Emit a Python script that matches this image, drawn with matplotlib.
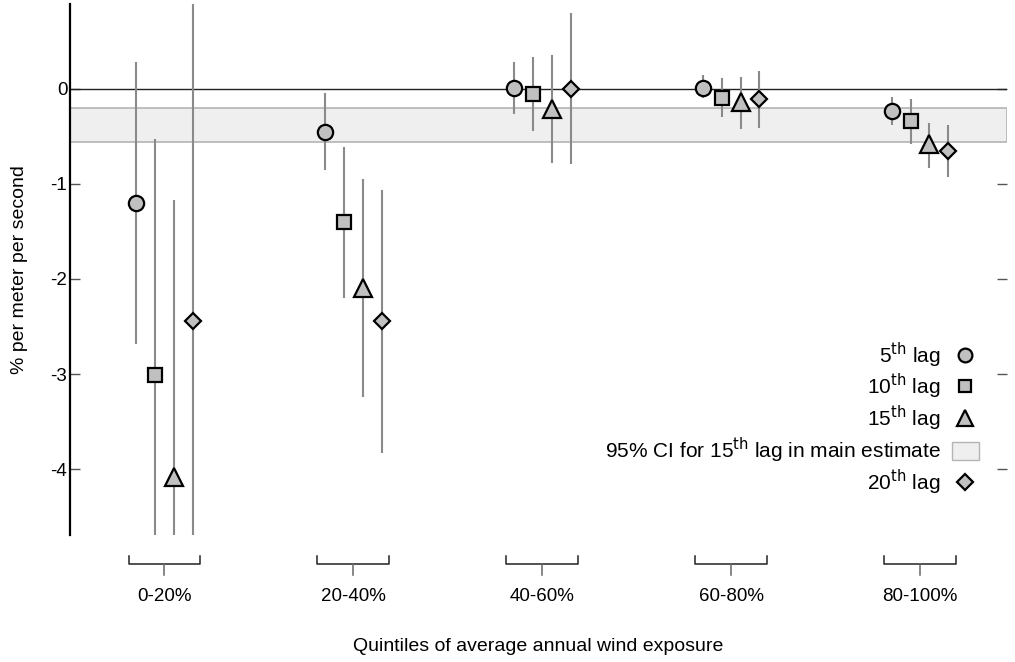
import numpy as np
import matplotlib
matplotlib.use('Agg')
import matplotlib.pyplot as plt
from matplotlib.lines import Line2D
from matplotlib.patches import Patch
import matplotlib.transforms as mtransforms

plt.rcParams['font.family'] = ['Liberation Sans', 'DejaVu Sans']
plt.rcParams['axes.unicode_minus'] = False

# quintile groups
quintiles = ['0-20%', '20-40%', '40-60%', '60-80%', '80-100%']

# point estimates per lag
lag5 = [-1.20, -0.46, 0.01, 0.01, -0.24]
lag10 = [-3.01, -1.40, -0.06, -0.10, -0.34]
lag15 = [-4.08, -2.10, -0.21, -0.14, -0.58]
lag20 = [-2.44, -2.44, 0.00, -0.11, -0.66]

# 95% CI bounds per lag
lag5_lo = [-2.68, -0.86, -0.27, -0.10, -0.38]
lag5_hi = [0.28, -0.05, 0.28, 0.14, -0.09]
lag10_lo = [-5.00, -2.20, -0.45, -0.30, -0.58]
lag10_hi = [-0.53, -0.61, 0.33, 0.11, -0.11]
lag15_lo = [-5.00, -3.24, -0.78, -0.42, -0.83]
lag15_hi = [-1.17, -0.95, 0.35, 0.12, -0.36]
lag20_lo = [-5.00, -3.83, -0.79, -0.41, -0.93]
lag20_hi = [1.00, -1.06, 0.80, 0.19, -0.38]

# main-estimate CI for the 15th lag
main_ci = (-0.565, -0.20)

series = [
    ('5$^{\\rm th}$ lag', lag5, lag5_lo, lag5_hi, 'o', 11),
    ('10$^{\\rm th}$ lag', lag10, lag10_lo, lag10_hi, 's', 9.5),
    ('15$^{\\rm th}$ lag', lag15, lag15_lo, lag15_hi, '^', 12.5),
    ('20$^{\\rm th}$ lag', lag20, lag20_lo, lag20_hi, 'D', 8.5),
]
offsets = [-0.15, -0.05, 0.05, 0.15]

fig = plt.figure(figsize=(10.15, 6.62), dpi=100)
ax = fig.add_axes([0.069, 0.192, 0.923, 0.802])

x = np.arange(len(quintiles))

ax.axhspan(main_ci[0], main_ci[1], facecolor='#efefef', edgecolor='#b4b4b4', lw=1.2, zorder=1)
ax.axhline(0, color='#222222', lw=1.0, zorder=2)

handles = []
for (label, est, lo, hi, mk, ms), off in zip(series, offsets):
    xs = x + off
    ax.vlines(xs, lo, hi, color='#8a8a8a', lw=1.5, zorder=3)
    ax.plot(xs, est, linestyle='none', marker=mk, ms=ms, mfc='#c0c0c0',
            mec='black', mew=1.6, zorder=4)
    handles.append(Line2D([], [], linestyle='none', marker=mk, ms=ms * 0.9,
                          mfc='#c0c0c0', mec='black', mew=1.6, label=label))

ci_handle = Patch(facecolor='#efefef', edgecolor='#b4b4b4', lw=1.0,
                  label='95% CI for 15$^{\\rm th}$ lag in main estimate')
handles.insert(3, ci_handle)

ax.legend(handles=handles, loc='lower right', bbox_to_anchor=(0.979, 0.0565),
          borderaxespad=0, frameon=False, markerfirst=False, fontsize=15,
          handlelength=1.3, handleheight=1.0, handletextpad=0.53,
          labelspacing=0.12)

ax.set_xlim(-0.5, 4.46)
ax.set_ylim(-4.69, 0.89)

ax.set_yticks([0, -1, -2, -3, -4])
ax.set_yticklabels(['0', '-1', '-2', '-3', '-4'])
ax.tick_params(axis='y', direction='in', length=7, width=1, labelsize=13.5,
               right=True, pad=2)
ax.tick_params(axis='y', which='both', colors='#555555', labelcolor='black')

ax.set_xticks(x)
ax.set_xticklabels(quintiles)
ax.tick_params(axis='x', length=0, pad=38, labelsize=13.5)

for side in ['top', 'right', 'bottom']:
    ax.spines[side].set_visible(False)
ax.spines['left'].set_linewidth(1.6)

ax.set_ylabel('% per meter per second', fontsize=14, labelpad=16)
ax.set_xlabel('Quintiles of average annual wind exposure', fontsize=14, labelpad=24)

# group brackets under each quintile
trans = mtransforms.blended_transform_factory(ax.transData, ax.transAxes)
for xi in x:
    ax.plot([xi - 0.19, xi - 0.19, xi + 0.19, xi + 0.19],
            [-0.0395, -0.0546, -0.0546, -0.0395], transform=trans,
            color='#222222', lw=1.1, clip_on=False)
    ax.plot([xi, xi], [-0.0546, -0.0753], transform=trans,
            color='#666666', lw=1.1, clip_on=False)

plt.savefig('out.png', dpi=100)
